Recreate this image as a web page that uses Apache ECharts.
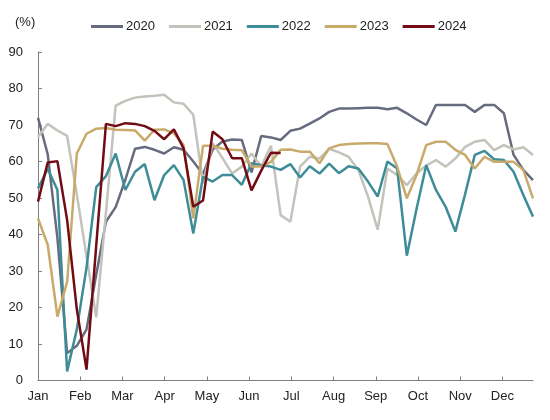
<!DOCTYPE html>
<html>
<head>
<meta charset="utf-8">
<script src="https://cdn.jsdelivr.net/npm/echarts@6/dist/echarts.min.js"></script>
<style>
html,body{margin:0;padding:0;background:#fff;}
#chart{width:550px;height:420px;}
</style>
</head>
<body>
<div id="chart"></div>
<script>
// Weekly values (week index 0..51)
const years = ['2020', '2021', '2022', '2023', '2024'];
const monthLabels = ['Jan','Feb','Mar','Apr','May','Jun','Jul','Aug','Sep','Oct','Nov','Dec'];
const monthWeeks = [0, 4.35, 8.7, 13.05, 17.4, 21.75, 26.1, 30.45, 34.8, 39.15, 43.5, 47.85];
const yTicks = [0, 10, 20, 30, 40, 50, 60, 70, 80, 90];

const v2020 = [72, 62, 39, 7.5, 9.5, 14, 29, 43.5, 47.5, 55, 63.5, 64, 63.2, 62.2, 63.9, 63.2,
  60, 56.5, 63.3, 65.5, 66, 65.9, 57, 67, 66.6, 65.9, 68.4, 69, 70.4, 71.8, 73.6, 74.5,
  74.5, 74.6, 74.7, 74.7, 74.3, 74.7, 73.2, 71.5, 70, 75.5, 75.5, 75.5, 75.5, 73.6, 75.5, 75.5,
  73.2, 61.8, 57.7, 54.9];
const v2021 = [66.7, 70.3, 68.5, 67, 51, 34, 17.3, 46, 75.3, 76.6, 77.5, 77.8, 78, 78.3, 76.2, 75.8,
  72.8, 54, 65, 61, 56.7, 58.6, 62.2, 58.6, 64.3, 45.3, 43.5, 58.6, 61.3, 60.8, 63.5, 62.5,
  61.3, 57.7, 50.4, 41.3, 58.1, 56.3, 53.5, 56.7, 58.9, 60.4, 58.6, 60.8, 64, 65.4, 65.9, 63.1,
  64.5, 63.3, 63.9, 61.8];
const v2022 = [52.6, 58, 52.2, 2.5, 14, 31, 53, 56, 62.2, 52.2, 57.2, 59.3, 49.4, 56.3, 59, 54.9,
  40.3, 55.8, 54.5, 56.3, 56.3, 53.6, 59.5, 59, 58.6, 57.7, 59.3, 55.6, 58.7, 56.7, 59.4, 56.8,
  58.7, 58.1, 54.5, 50.4, 60, 58.1, 34.2, 47, 59, 52.2, 47.6, 40.8, 51, 61.8, 62.9, 60.6,
  60.4, 57.2, 50.8, 44.9];
const v2023 = [44.4, 37.2, 17.5, 27, 62.2, 67.6, 69, 69.2, 68.7, 68.6, 68.5, 65.7, 68.7, 68.8, 67.7, 64.5,
  44.4, 64.3, 64.3, 63.5, 63.2, 63.1, 58.6, 58.6, 59.9, 63.2, 63.3, 62.7, 62.7, 59.5, 63.6, 64.5,
  64.8, 64.9, 65, 65, 64.8, 58.6, 49.9, 56.3, 64.5, 65.4, 65.4, 63.2, 61.8, 58.1, 61.3, 59.9,
  59.9, 59.9, 57.7, 49.9];
const v2024 = [49, 59.7, 60.1, 44, 19.5, 3, 37, 70.3, 69.7, 70.5, 70.3, 69.7, 68.4, 66.1, 68.8, 63.6,
  47.6, 49.3, 68.2, 66.1, 60.9, 60.9, 52.1, 57.5, 62.4, 62.3];

const seriesValues = [v2020, v2021, v2022, v2023, v2024];
const colors = ['#676b7e', '#c3c3bb', '#3e8c97', '#c8aa6b', '#720c14'];

const chart = echarts.init(document.getElementById('chart'));
const font = 'Liberation Sans, Arial, sans-serif';

chart.setOption({
  animation: false,
  backgroundColor: '#ffffff',
  color: colors,
  textStyle: { fontFamily: font },
  legend: {
    data: years,
    left: 86,
    top: 15,
    icon: 'rect',
    itemWidth: 32,
    itemHeight: 3,
    itemGap: 14,
    textStyle: { fontFamily: font, fontSize: 13, color: '#222', padding: [0, 0, 0, -2] }
  },
  graphic: [{
    type: 'text',
    left: 15,
    top: 16,
    style: { text: '(%)', font: '13px ' + font, fill: '#222' }
  }],
  grid: { left: 38, right: 17, top: 52, bottom: 39.5, containLabel: false },
  xAxis: {
    type: 'value',
    min: 0,
    max: 51,
    splitLine: { show: false },
    axisLine: { show: true, lineStyle: { color: '#7f7f7f', width: 1 } },
    axisTick: { show: true, inside: true, length: 4, lineStyle: { color: '#7f7f7f' }, customValues: monthWeeks },
    axisLabel: {
      customValues: monthWeeks,
      margin: 9,
      fontSize: 13,
      color: '#222',
      fontFamily: font,
      formatter: function (val) {
        let best = 0, bd = 1e9;
        monthWeeks.forEach(function (w, k) { const d = Math.abs(w - val); if (d < bd) { bd = d; best = k; } });
        return monthLabels[best];
      }
    }
  },
  yAxis: {
    type: 'value',
    min: yTicks[0],
    max: yTicks[yTicks.length - 1],
    interval: 10,
    splitLine: { show: false },
    axisLine: { show: true, lineStyle: { color: '#7f7f7f', width: 1 } },
    axisTick: { show: true, inside: true, length: 4, lineStyle: { color: '#7f7f7f' } },
    axisLabel: { margin: 15, fontSize: 13, color: '#222', fontFamily: font }
  },
  series: years.map(function (y, k) {
    return {
      name: y,
      type: 'line',
      symbol: 'none',
      showSymbol: false,
      lineStyle: { width: 2.5, color: colors[k] },
      itemStyle: { color: colors[k] },
      data: seriesValues[k].map(function (v, i) { return [i, v]; }),
      z: 2 + k
    };
  })
});
</script>
</body>
</html>
